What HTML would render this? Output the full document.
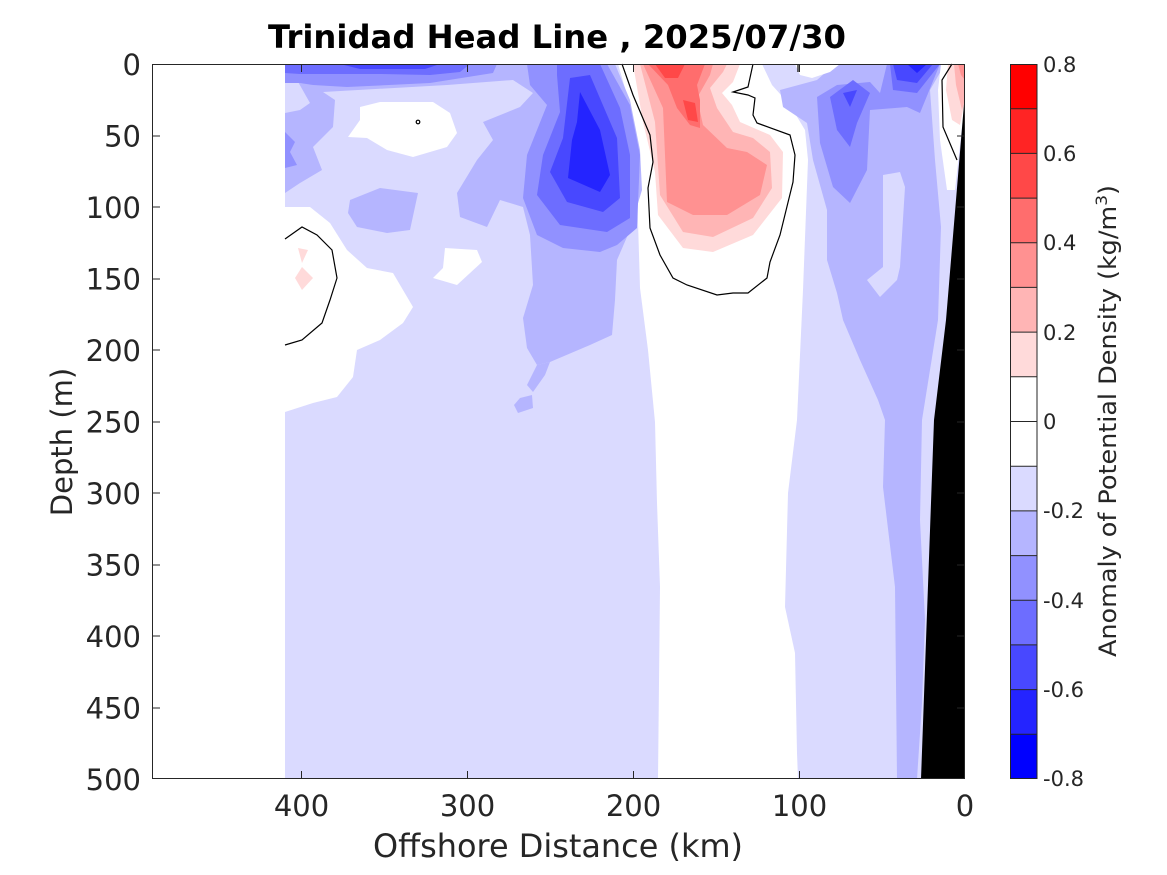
<!DOCTYPE html>
<html>
<head>
<meta charset="utf-8">
<style>
html,body{margin:0;padding:0;background:#fff;}
svg{display:block;}
text{font-family:"DejaVu Sans","Liberation Sans",sans-serif;fill:#262626;}
</style>
</head>
<body>
<svg width="1167" height="875" viewBox="0 0 1167 875" xmlns="http://www.w3.org/2000/svg">
<rect x="0" y="0" width="1167" height="875" fill="#fff"/>

<!-- base light blue regions -->
<path d="M285,64 L618,64 L625,88 L637,188 L640,288 L648,350 L655,422 L657,503 L660,587 L658,779 L285,779 Z" fill="#dadaff"/>
<path d="M762,64 L965,64 L965,779 L798,779 L797,753 L795,653 L785,607 L788,493 L797,420 L803,290 L808,160 L805,130 L790,105 L772,85 Z" fill="#dadaff"/>

<!-- left white region -->
<path d="M285,207 L310,207 L330,223 L347,250 L367,268 L393,273 L413,307 L403,323 L380,340 L357,350 L353,377 L337,397 L313,403 L285,412 Z" fill="#fff"/>

<!-- left medium structure -->
<path d="M285,64 L615,64 L630,100 L640,150 L642,190 L630,230 L617,260 L615,300 L612,335 L590,345 L550,362 L537,365 L527,348 L523,318 L533,285 L530,235 L523,207 L500,200 L487,227 L460,217 L457,193 L477,160 L493,140 L483,122 L520,107 L533,93 L513,80 L447,85 L323,92 L335,100 L333,127 L313,147 L322,170 L300,183 L285,193 Z" fill="#b5b5ff"/>
<path d="M537,365 L550,362 L545,375 L533,392 L527,385 Z" fill="#b5b5ff"/>
<path d="M520,398 L532,395 L533,408 L518,413 L514,405 Z" fill="#b5b5ff"/>
<path d="M285,77 L297,80 L310,103 L300,110 L285,113 Z" fill="#dadaff"/>
<path d="M360,107 L380,102 L433,102 L450,113 L457,133 L447,147 L413,157 L387,150 L367,138 L348,137 L360,120 Z" fill="#fff"/>
<path d="M445,248 L477,250 L482,262 L457,285 L433,278 L443,268 Z" fill="#fff"/>
<path d="M350,200 L380,188 L418,193 L410,230 L387,233 L357,227 L348,213 Z" fill="#b5b5ff"/>

<!-- left top band -->
<path d="M285,132 L295,142 L290,152 L297,165 L285,168 Z" fill="#9191ff"/>
<path d="M285,64 L497,64 L493,73 L430,83 L347,87 L313,85 L300,83 L285,83 Z" fill="#9191ff"/>
<path d="M285,64 L470,64 L460,72 L430,75 L380,74 L300,74 L285,73 Z" fill="#6d6dff"/>
<path d="M340,64 L440,64 L425,69 L360,69 Z" fill="#4848ff"/>

<!-- central blue core -->
<path d="M527,64 L607,64 L630,105 L640,155 L637,228 L617,245 L600,252 L563,248 L537,235 L523,198 L527,155 L547,105 L530,85 Z" fill="#9191ff"/>
<path d="M557,64 L600,64 L620,108 L630,155 L630,218 L607,232 L560,225 L537,195 L543,155 L560,112 L557,75 Z" fill="#6d6dff"/>
<path d="M570,78 L590,75 L617,138 L620,198 L603,212 L567,202 L550,172 L563,138 Z" fill="#4848ff"/>
<path d="M580,92 L600,130 L610,175 L600,192 L568,178 L572,140 L577,122 Z" fill="#2424ff"/>

<!-- red region -->
<path d="M633,64 L740,64 L733,82 L722,93 L732,105 L740,122 L770,135 L783,152 L782,198 L753,235 L713,252 L683,248 L658,215 L655,172 L643,122 Z" fill="#ffdada"/>
<path d="M640,64 L727,64 L723,72 L710,88 L717,108 L733,132 L753,138 L770,152 L772,188 L753,218 L713,237 L683,232 L660,195 L655,122 Z" fill="#ffb5b5"/>
<path d="M643,64 L713,64 L710,75 L697,98 L703,125 L727,148 L747,152 L767,165 L760,195 L727,215 L693,215 L667,202 L663,108 Z" fill="#ff9191"/>
<path d="M648,64 L705,64 L697,85 L700,100 L700,128 L690,125 L677,108 L668,85 Z" fill="#ff6d6d"/>
<path d="M655,64 L685,64 L678,78 L665,78 Z" fill="#ff4848"/>
<path d="M683,100 L695,103 L698,122 L688,120 Z" fill="#ff4848"/>

<!-- left pink spots -->
<path d="M298,248 L308,250 L302,263 Z" fill="#ffdada"/>
<path d="M302,267 L313,278 L302,290 L295,278 Z" fill="#ffdada"/>

<!-- right side structures -->
<path d="M780,90 L817,80 L835,64 L945,64 L930,90 L935,160 L941,227 L938,320 L922,420 L920,520 L925,620 L922,703 L917,779 L897,779 L895,587 L883,487 L885,420 L878,400 L860,360 L843,320 L837,293 L827,260 L827,210 L813,160 L807,123 L783,107 Z" fill="#b5b5ff"/>
<path d="M883,175 L900,172 L905,187 L900,267 L897,280 L880,297 L867,280 L883,267 Z" fill="#dadaff"/>
<path d="M817,97 L837,85 L870,82 L880,93 L887,64 L940,64 L920,113 L907,107 L870,110 L867,170 L850,203 L833,187 L820,143 Z" fill="#9191ff"/>
<path d="M830,97 L853,80 L870,93 L857,123 L850,147 L837,130 Z" fill="#6d6dff"/>
<path d="M890,64 L940,64 L917,93 L893,90 Z" fill="#6d6dff"/>
<path d="M843,93 L857,90 L850,107 Z" fill="#4848ff"/>
<path d="M893,64 L933,64 L917,83 L897,80 Z" fill="#4848ff"/>
<path d="M907,64 L927,64 L917,73 Z" fill="#2424ff"/>
<path d="M795,64 L840,64 L830,72 L812,78 L800,75 Z" fill="#fff"/>

<!-- right edge white and red wedge -->
<path d="M941,64 L965,64 L965,100 L955,190 L947,190 L940,140 L938,90 Z" fill="#fff"/>
<path d="M948,64 L965,64 L965,100 L960,125 L952,120 L946,90 Z" fill="#ffdada"/>
<path d="M954,64 L965,64 L965,100 L962,110 L956,85 Z" fill="#ffb5b5"/>
<path d="M958,64 L965,64 L965,80 L961,75 Z" fill="#ff9191"/>

<!-- bathymetry -->
<path d="M965,92 L946,320 L934,420 L921,779 L965,779 Z" fill="#000"/>

<!-- zero contours -->
<g fill="none" stroke="#000" stroke-width="1.2">
<path d="M285,239 L302,227 L317,235 L332,250 L337,278 L330,300 L322,323 L302,340 L285,345"/>
<path d="M622,64 L633,95 L650,135 L653,162 L648,188 L650,228 L660,255 L673,278 L687,285 L717,295 L733,293 L748,293 L767,278 L770,262 L780,235 L793,182 L795,155 L790,135 L757,123 L753,115 L755,98 L748,95 L733,92 L748,87 L753,64"/>
<path d="M952,64 L942,80 L943,127 L957,160"/>
<path d="M798,64 L798,72"/>
<circle cx="418" cy="122" r="1.8"/>
</g>

<!-- axes box and ticks -->
<g stroke="#262626" stroke-width="1" fill="none">
<rect x="152.5" y="64.5" width="812" height="714"/>
<path d="M152,64.5h8 M152,136h8 M152,207h8 M152,279h8 M152,350h8 M152,422h8 M152,493h8 M152,565h8 M152,636h8 M152,708h8"/>
<path d="M965,136h-8 M965,207h-8 M965,279h-8 M965,350h-8 M965,422h-8 M965,493h-8 M965,565h-8 M965,636h-8 M965,708h-8"/>
<path d="M301.5,779v-8 M467.5,779v-8 M633.5,779v-8 M799.5,779v-8"/>
<path d="M301.5,64v8 M467.5,64v8 M633.5,64v8 M799.5,64v8"/>
</g>

<!-- y tick labels -->
<g font-size="29" text-anchor="end">
<text x="141" y="75">0</text>
<text x="141" y="146.5">50</text>
<text x="141" y="218">100</text>
<text x="141" y="289.5">150</text>
<text x="141" y="361">200</text>
<text x="141" y="432.5">250</text>
<text x="141" y="504">300</text>
<text x="141" y="575.5">350</text>
<text x="141" y="647">400</text>
<text x="141" y="718.5">450</text>
<text x="141" y="790">500</text>
</g>
<!-- x tick labels -->
<g font-size="29" text-anchor="middle">
<text x="301.5" y="816">400</text>
<text x="467.5" y="816">300</text>
<text x="633.5" y="816">200</text>
<text x="799.5" y="816">100</text>
<text x="965" y="816">0</text>
</g>

<!-- axis labels -->
<text x="558" y="857" font-size="32" text-anchor="middle" textLength="370" lengthAdjust="spacingAndGlyphs">Offshore Distance (km)</text>
<text transform="translate(72,442) rotate(-90)" font-size="29" text-anchor="middle">Depth (m)</text>

<!-- title -->
<text x="557" y="48" font-size="32" font-weight="bold" text-anchor="middle" style="fill:#000" textLength="578" lengthAdjust="spacingAndGlyphs">Trinidad Head Line , 2025/07/30</text>

<!-- colorbar -->
<g stroke="none">
<rect x="1010" y="64" width="27" height="44.7" fill="#ff0000"/>
<rect x="1010" y="108.7" width="27" height="44.7" fill="#ff2424"/>
<rect x="1010" y="153.4" width="27" height="44.7" fill="#ff4848"/>
<rect x="1010" y="198.1" width="27" height="44.7" fill="#ff6d6d"/>
<rect x="1010" y="242.8" width="27" height="44.7" fill="#ff9191"/>
<rect x="1010" y="287.4" width="27" height="44.7" fill="#ffb5b5"/>
<rect x="1010" y="332.1" width="27" height="44.7" fill="#ffdada"/>
<rect x="1010" y="376.8" width="27" height="44.7" fill="#ffffff"/>
<rect x="1010" y="421.5" width="27" height="44.7" fill="#ffffff"/>
<rect x="1010" y="466.2" width="27" height="44.7" fill="#dadaff"/>
<rect x="1010" y="510.9" width="27" height="44.7" fill="#b5b5ff"/>
<rect x="1010" y="555.6" width="27" height="44.7" fill="#9191ff"/>
<rect x="1010" y="600.3" width="27" height="44.7" fill="#6d6dff"/>
<rect x="1010" y="644.9" width="27" height="44.7" fill="#4848ff"/>
<rect x="1010" y="689.6" width="27" height="44.7" fill="#2424ff"/>
<rect x="1010" y="734.3" width="27" height="44.7" fill="#0000ff"/>
</g>
<g stroke="#262626" stroke-width="1" fill="none">
<path d="M1010,108.7h27 M1010,153.4h27 M1010,198.1h27 M1010,242.8h27 M1010,287.4h27 M1010,332.1h27 M1010,376.8h27 M1010,421.5h27 M1010,466.2h27 M1010,510.9h27 M1010,555.6h27 M1010,600.3h27 M1010,644.9h27 M1010,689.6h27 M1010,734.3h27"/>
<rect x="1010.5" y="64.5" width="26.5" height="714"/>
</g>
<g font-size="21">
<text x="1043" y="72">0.8</text>
<text x="1043" y="161">0.6</text>
<text x="1043" y="250">0.4</text>
<text x="1043" y="340">0.2</text>
<text x="1043" y="429">0</text>
<text x="1043" y="518">-0.2</text>
<text x="1043" y="608">-0.4</text>
<text x="1043" y="697">-0.6</text>
<text x="1043" y="786">-0.8</text>
</g>
<text transform="translate(1116,421) rotate(-90)" font-size="24" text-anchor="middle" textLength="472" lengthAdjust="spacingAndGlyphs">Anomaly of Potential Density (kg/m<tspan dy="-9" font-size="16">3</tspan><tspan dy="9">)</tspan></text>
</svg>
</body>
</html>
